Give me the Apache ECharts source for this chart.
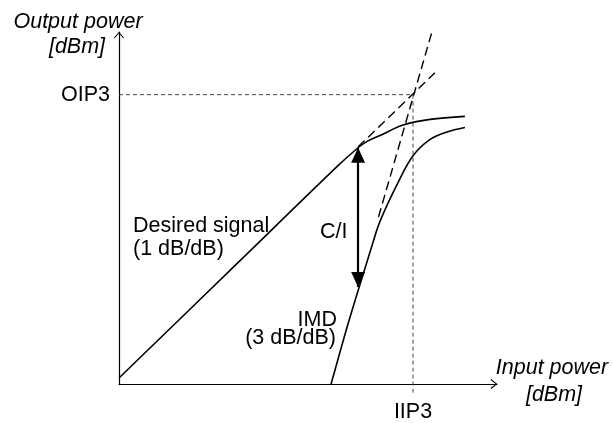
<!DOCTYPE html>
<html><head><meta charset="utf-8">
<script src="https://cdn.jsdelivr.net/npm/echarts@6/dist/echarts.min.js"></script>
<style>html,body{margin:0;padding:0;background:#fff}#c{width:613px;height:423px}</style>
</head><body><div id="c"></div>
<script>
// Desired signal (1 dB/dB, compresses at high input)
const desiredX = [0, 40, 73, 79.7, 83, 87, 94.7, 103.7, 115.3];
const desiredY = [2, 41, 73.2, 79.2, 81.5, 83.3, 86.8, 88.7, 89.7];
// Third-order intermodulation product (3 dB/dB)
const imdX = [70.7, 76, 79.3, 83.7, 87, 93, 98, 103.7, 109.3, 115.3];
const imdY = [0, 19, 30, 44.3, 54.5, 67.5, 76.5, 82, 84.5, 86];
// Extrapolated (dashed) lines
const desiredExtX = [79.7, 105.3];
const desiredExtY = [79.5, 104.3];
const imdExtX = [86.5, 104.3];
const imdExtY = [56, 118];
// Intercept point
const IIP3 = 98, OIP3 = 97;
const guideX = [0, IIP3, IIP3];
const guideY = [OIP3, OIP3, -3];
// C/I arrow
const ciArrowX = 79.7, ciTop = 79.2, ciBottom = 32.5;
// Axis extents
const xMax = 126, yMax = 118;
// Texts
const tickLabelX = 'IIP3', tickLabelY = 'OIP3';
const yName = ['Output power', '[dBm]'];
const xName = ['Input power', '[dBm]'];
const desiredLabel = ['Desired signal', '(1 dB/dB)'];
const imdLabel = ['IMD', '(3 dB/dB)'];
const ciLabel = 'C/I';

const zip = (a, b) => a.map((v, i) => [v, b[i]]);
const FF = '"Liberation Sans", Arial, sans-serif';
const FS = 21.5;
const chev = 'path://M5 0 L10 6 L9.1 6.7 L5 1.7 L0.9 6.7 L0 6 Z';

const chart = echarts.init(document.getElementById('c'), null, {renderer: 'canvas'});
const txt = (text, x, y, align, italic) => ({
  type: 'text', x: x, y: y, silent: true,
  style: {text: text, fill: '#000', align: align, verticalAlign: 'middle',
          font: (italic ? 'italic ' : '') + FS + 'px ' + FF}
});
chart.setOption({
  animation: false,
  backgroundColor: '#fff',
  grid: {left: 119, top: 32, width: 378, height: 354, containLabel: false},
  xAxis: {
    type: 'value', min: 0, max: xMax,
    splitLine: {show: false}, axisTick: {show: false},
    axisLine: {show: true, onZero: false, lineStyle: {color: '#000', width: 1.2},
               symbol: ['none', chev], symbolSize: [10, 6.7], symbolOffset: [0, -3]},
    axisLabel: {customValues: [IIP3], formatter: () => tickLabelX, color: '#000',
                fontSize: FS, fontFamily: FF, margin: 17}
  },
  yAxis: {
    type: 'value', min: 0, max: yMax,
    splitLine: {show: false}, axisTick: {show: false},
    axisLine: {show: true, onZero: false, lineStyle: {color: '#000', width: 1.2},
               symbol: ['none', chev], symbolSize: [10, 6.7], symbolOffset: [0, -3]},
    axisLabel: {customValues: [OIP3], formatter: () => tickLabelY, color: '#000',
                fontSize: FS, fontFamily: FF, margin: 9}
  },
  series: [
    {name: 'Desired signal', type: 'line', data: zip(desiredX, desiredY), smooth: 0.35,
     symbol: 'none', lineStyle: {color: '#000', width: 1.6},
     markLine: {silent: true, symbol: ['triangle', 'triangle'], symbolSize: [14, 15],
       symbolOffset: [[0, 7.5], [0, 7.5]], label: {show: false},
       lineStyle: {color: '#000', width: 2.2, type: 'solid'},
       data: [[{coord: [ciArrowX, ciTop]}, {coord: [ciArrowX, ciBottom]}]]}},
    {name: 'IMD', type: 'line', data: zip(imdX, imdY), smooth: 0.35,
     symbol: 'none', lineStyle: {color: '#000', width: 1.6}},
    {name: 'Desired ext', type: 'line', data: zip(desiredExtX, desiredExtY), clip: false,
     symbol: 'none', lineStyle: {color: '#000', width: 1.4, type: [9, 5]}},
    {name: 'IMD ext', type: 'line', data: zip(imdExtX, imdExtY), clip: false,
     symbol: 'none', lineStyle: {color: '#000', width: 1.4, type: [9, 5]}},
    {name: 'IP3 guide', type: 'line', data: zip(guideX, guideY), clip: false,
     symbol: 'none', lineStyle: {color: '#444', width: 1, type: [4, 3]}}
  ],
  graphic: [
    txt(yName[0], 78, 22, 'center', true),
    txt(yName[1], 77, 47, 'center', true),
    txt(xName[0], 552, 368, 'center', true),
    txt(xName[1], 554, 395, 'center', true),
    txt(desiredLabel[0], 133, 226, 'left', false),
    txt(desiredLabel[1], 133, 249, 'left', false),
    txt(ciLabel, 320, 232, 'left', false),
    txt(imdLabel[0], 337, 320, 'right', false),
    txt(imdLabel[1], 336, 338.5, 'right', false)
  ]
});
</script></body></html>
